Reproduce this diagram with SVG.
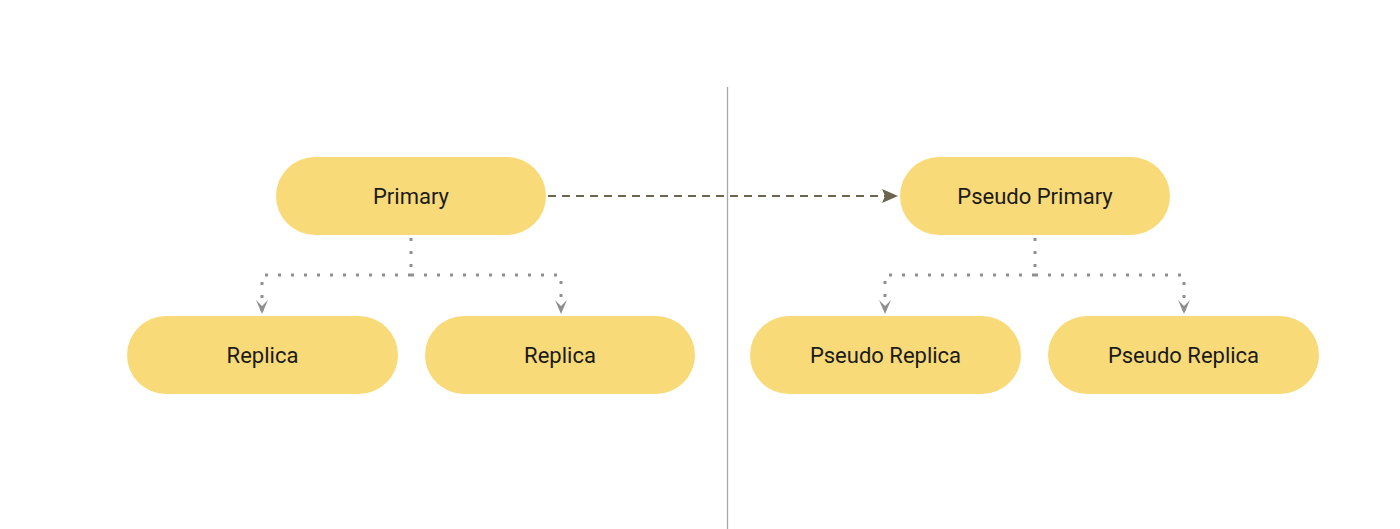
<svg xmlns="http://www.w3.org/2000/svg" width="1400" height="529" viewBox="0 0 1400 529">
<style>
.node rect{fill:#f9da78;}
.node text{font-family:Roboto,"Liberation Sans",sans-serif;font-size:22px;fill:#1a1a1a;text-anchor:middle;dominant-baseline:central;}
.dot{fill:none;stroke:#8f8f8f;stroke-width:3;stroke-dasharray:3 10;}
.dash{fill:none;stroke:#6b6550;stroke-width:2;stroke-dasharray:8 6;}
</style>
<defs>
<marker id="chev" markerUnits="userSpaceOnUse" markerWidth="14" markerHeight="18" refX="6" refY="16" orient="0" viewBox="0 0 12 18">
<path d="M0,2 L6,16 L12,2 L6,8 Z" fill="#8f8f8f"/>
</marker>
<marker id="tri" markerUnits="userSpaceOnUse" markerWidth="16" markerHeight="14" refX="16" refY="7" orient="auto" viewBox="0 0 16 14">
<path d="M0,0 L16,7 L0,14 L3,7 Z" fill="#6b6550"/>
</marker>
</defs>
<rect width="1400" height="529" fill="#ffffff"/>
<line x1="727.5" y1="87" x2="727.5" y2="529" stroke="#a8a8a8" stroke-width="1.3"/>
<g id="connectors">
<path class="dash" d="M548,196 H898" marker-end="url(#tri)"/>
<path class="dot" d="M411,238 V275"/>
<path class="dot" d="M411,275 H262 V314" marker-end="url(#chev)"/>
<path class="dot" d="M411,275 H561 V314" marker-end="url(#chev)"/>
<path class="dot" d="M1035,238 V275"/>
<path class="dot" d="M1035,275 H885 V314" marker-end="url(#chev)"/>
<path class="dot" d="M1035,275 H1184 V314" marker-end="url(#chev)"/>
</g>
<g id="primary" class="node"><rect x="276" y="157" width="270" height="78" rx="39"/><text x="411" y="196">Primary</text></g>
<g id="replica1" class="node"><rect x="127" y="316" width="271" height="78" rx="39"/><text x="262.5" y="355">Replica</text></g>
<g id="replica2" class="node"><rect x="425" y="316" width="270" height="78" rx="39"/><text x="560" y="355">Replica</text></g>
<g id="pseudo-primary" class="node"><rect x="900" y="157" width="270" height="78" rx="39"/><text x="1035" y="196">Pseudo Primary</text></g>
<g id="pseudo-replica1" class="node"><rect x="750" y="316" width="271" height="78" rx="39"/><text x="885.5" y="355">Pseudo Replica</text></g>
<g id="pseudo-replica2" class="node"><rect x="1048" y="316" width="271" height="78" rx="39"/><text x="1183.5" y="355">Pseudo Replica</text></g>
</svg>
